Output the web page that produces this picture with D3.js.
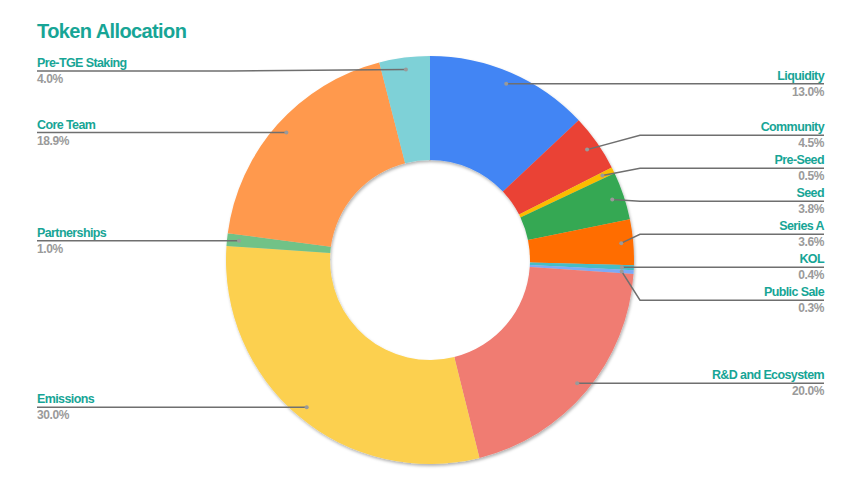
<!DOCTYPE html>
<html>
<head>
<meta charset="utf-8">
<script src="https://cdnjs.cloudflare.com/ajax/libs/d3/7.8.5/d3.min.js"></script>
<style>
body { margin: 0; background: #fff; }
.title { font-family: "Liberation Sans", Arial; font-weight: bold; font-size: 20px; fill: #17a596; letter-spacing: -0.6px; }
.lbl { font-family: "Liberation Sans", Arial; font-weight: bold; font-size: 12.5px; fill: #17a596; letter-spacing: -0.6px; }
.pct { font-family: "Liberation Sans", Arial; font-weight: bold; font-size: 12px; fill: #9a9a9a; letter-spacing: -0.4px; }
.leader { stroke: #6f6f6f; stroke-width: 1.5; fill: none; }
</style>
</head>
<body>
<svg width="866" height="494"></svg>
<script>
var categories = ["Liquidity", "Community", "Pre-Seed", "Seed", "Series A", "KOL", "Public Sale",
  "R&D and Ecosystem", "Emissions", "Partnerships", "Core Team", "Pre-TGE Staking"];
var values = [13.0, 4.5, 0.5, 3.8, 3.6, 0.4, 0.3, 20.0, 30.0, 1.0, 18.9, 4.0];
var colors = ["#4285f4", "#ea4335", "#fbbc04", "#34a853", "#ff6d01", "#46bdc6", "#7baaf7",
  "#f07b72", "#fcd04f", "#71c287", "#ff994d", "#7ed1d7"];

var svg = d3.select("svg");
var cx = 430, cy = 260, rOut = 204, rIn = 100, rDot = 192;

var defs = svg.append("defs");
var f = defs.append("filter").attr("id", "sh").attr("x", "-10%").attr("y", "-10%").attr("width", "120%").attr("height", "120%");
f.append("feDropShadow").attr("dx", 1).attr("dy", 2).attr("stdDeviation", 1.5).attr("flood-opacity", 0.3);

svg.append("text").attr("class", "title").attr("x", 37).attr("y", 38).text("Token Allocation");

var pie = d3.pie().sort(null).value(function(d) { return d; });
var arcs = pie(values);
var arc = d3.arc().innerRadius(rIn).outerRadius(rOut);

var g = svg.append("g").attr("transform", "translate(" + cx + "," + cy + ")");
g.append("g").attr("filter", "url(#sh)").selectAll("path").data(arcs).enter().append("path")
  .attr("d", arc).attr("fill", function(d, i) { return colors[i]; });

// label layout
var items = arcs.map(function(a, i) {
  var m = (a.startAngle + a.endAngle) / 2;
  var x = cx + rDot * Math.sin(m), y = cy - rDot * Math.cos(m);
  return { i: i, x: x, y: y, ly: y, right: m < Math.PI };
});
function spread(list, gap) {
  list.sort(function(a, b) { return a.y - b.y; });
  for (var it = 0; it < 200; it++) {
    for (var k = 1; k < list.length; k++) {
      var d = list[k].ly - list[k - 1].ly;
      if (d < gap) { var s = (gap - d) / 2; list[k].ly += s; list[k - 1].ly -= s; }
    }
  }
}
var rightItems = items.filter(function(d) { return d.right; });
var leftItems = items.filter(function(d) { return !d.right; });
spread(rightItems, 33);
spread(leftItems, 33);
// Pre-TGE label sits near top
items[11].ly = 71;

var lab = svg.append("g");
items.forEach(function(d) {
  var pts = d.right ? [[d.x, d.y], [640, d.ly], [824, d.ly]] : [[d.x, d.y], [230, d.ly], [37, d.ly]];
  lab.append("path").attr("class", "leader").attr("d", d3.line()(pts));
  lab.append("circle").attr("cx", d.x).attr("cy", d.y).attr("r", 2).attr("fill", "#9a9a9a");
  var tx = d.right ? 824 : 37, anc = d.right ? "end" : "start";
  lab.append("text").attr("class", "lbl").attr("x", tx).attr("y", d.ly - 4).attr("text-anchor", anc).text(categories[d.i]);
  lab.append("text").attr("class", "pct").attr("x", tx).attr("y", d.ly + 12).attr("text-anchor", anc).text(values[d.i].toFixed(1) + "%");
});
</script>
</body>
</html>
